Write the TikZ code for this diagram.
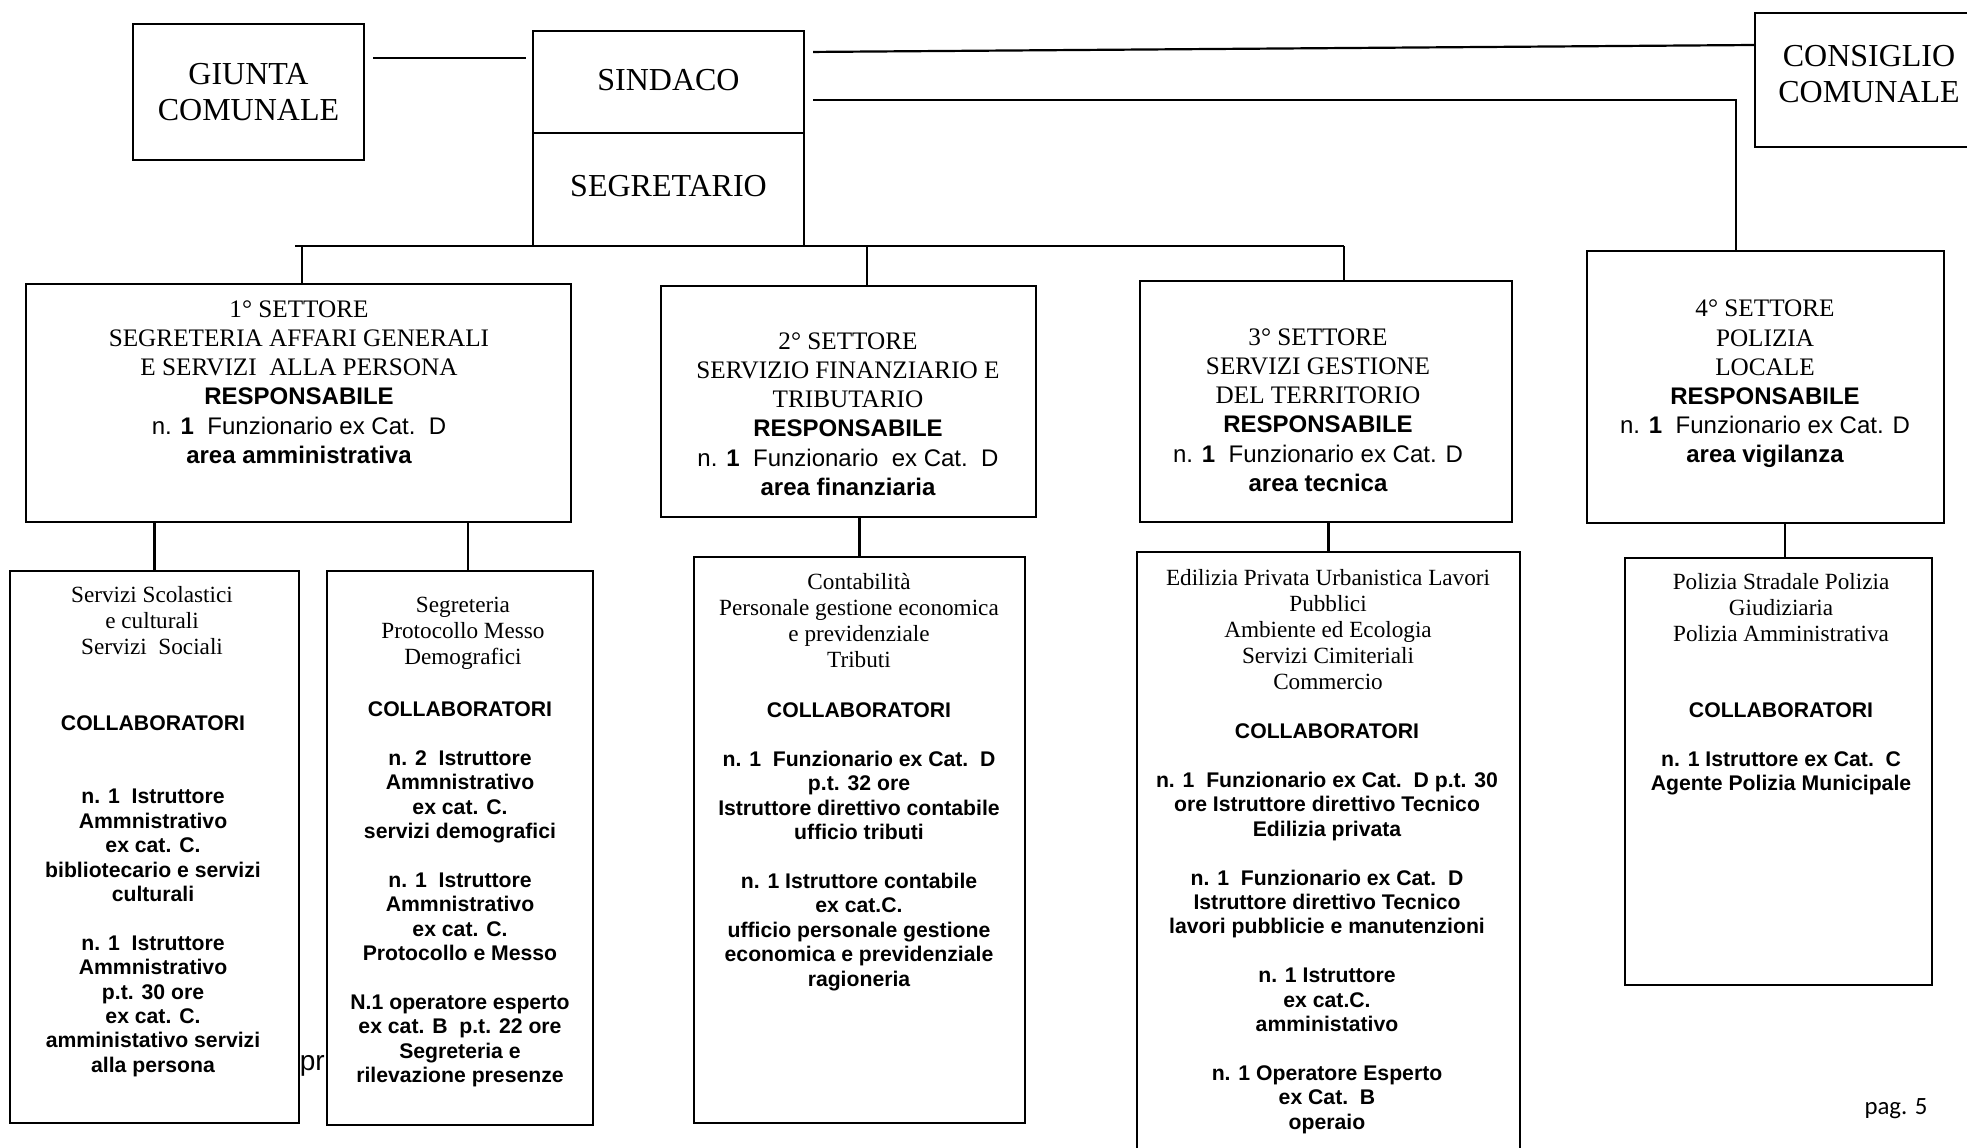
\documentclass[tikz,border=0pt]{standalone}
\usepackage{fontspec}
\setmainfont{Liberation Serif}
\setsansfont{Liberation Sans}
\newfontfamily\pagfont{Carlito}
\newcommand\sansline{\sffamily\fontsize{6}{7.3}\selectfont}

\begin{document}
\begin{tikzpicture}[x=0.25pt,y=-0.25pt,
  box/.style={draw,line width=0.55pt,inner sep=0pt},
  link/.style={line width=0.55pt},
  head/.style={align=center,font=\fontsize{8}{9}\selectfont},
  sect/.style={align=center,inner sep=0pt,font=\fontsize{6.3}{7.3}\selectfont},
  svc/.style={align=center,inner sep=0pt,anchor=north,font=\fontsize{5.8}{6.5}\selectfont},
  staff/.style={align=center,inner sep=0pt,anchor=north,font=\sffamily\bfseries\fontsize{5.3}{6.1}\selectfont}]
\useasboundingbox (0,0) rectangle (1967,1147);
\clip (0,0) rectangle (1967,1147);
% organi di vertice
\node[box,head,minimum width=57.75pt,minimum height=34pt] (giunta) at (248.5,92) {GIUNTA\\COMUNALE};
\node[box,head,text depth=1.2pt,minimum width=67.75pt,minimum height=25.5pt] (sindaco) at (668.5,82) {SINDACO};
\node[box,head,text depth=1.8pt,minimum width=67.75pt,minimum height=28.25pt] (segretario) at (668.5,189.5) {SEGRETARIO};
\node[box,minimum width=57pt,minimum height=33.5pt] (consiglio) at (1869,80) {};
\node[head,inner sep=0pt] (tcons) at (1869,74) {CONSIGLIO\\COMUNALE};
% settori
\node[box,minimum width=136.25pt,minimum height=59.5pt] (s1) at (298.5,403) {};
\node[box,minimum width=93.75pt,minimum height=57.75pt] (s2) at (848.5,401.5) {};
\node[box,minimum width=93pt,minimum height=60.25pt] (s3) at (1326,401.5) {};
\node[box,minimum width=89.25pt,minimum height=68pt] (s4) at (1765.5,387) {};
% uffici
\node[box,minimum width=72.25pt,minimum height=138pt] (u1a) at (154.5,847) {};
\node[box,minimum width=66.5pt,minimum height=138.5pt] (u1b) at (460,848) {};
\node[box,minimum width=82.75pt,minimum height=141.5pt] (u2) at (859.5,840) {};
\node[box,minimum width=95.75pt,minimum height=152pt] (u3) at (1328.5,856) {};
\node[box,minimum width=76.75pt,minimum height=106.75pt] (u4) at (1778.5,771.5) {};
% collegamenti
\draw[link,shorten <=2pt,shorten >=1.5pt] (giunta.east |- 0,58) -- (sindaco.west |- 0,58);
\draw[link,shorten <=2pt] (sindaco.east |- 0,52) -- (consiglio.west |- 0,45);
\draw[link,shorten <=2pt] (sindaco.east |- 0,100) -| (1736,0 |- s4.north);
\coordinate (bus) at (295,246);
\draw[link] (bus) -- (bus -| 1344,0);
\draw[link] (bus -| 302,0) -- (302,0 |- s1.north);
\draw[link] (bus -| 867,0) -- (867,0 |- s2.north);
\draw[link] (bus -| 1344,0) -- (1344,0 |- s3.north);
\draw[link] (s1.south -| u1a.north) -- (u1a.north);
\draw[link] (s1.south -| 468,0) -- (u1b.north -| 468,0);
\draw[link] (s2.south -| u2.north) -- (u2.north);
\draw[link] (s3.south -| u3.north) -- (u3.north);
\draw[link] (s4.south -| 1785,0) -- (u4.north -| 1785,0);
% testi dei settori
\node[sect] (t1) at (299,382) {1° SETTORE\\SEGRETERIA AFFARI GENERALI\\E SERVIZI\ \ ALLA PERSONA\\{\sansline\bfseries RESPONSABILE}\\{\sansline n. \textbf{1}\ \ Funzionario ex Cat.\ \ D}\\{\sansline\bfseries area amministrativa}};
\node[sect] (t2) at (848,414) {2° SETTORE\\SERVIZIO FINANZIARIO E\\TRIBUTARIO\\{\sansline\bfseries RESPONSABILE}\\{\sansline n. \textbf{1}\ \ Funzionario\ \ ex Cat.\ \ D}\\{\sansline\bfseries area finanziaria}};
\node[sect] (t3) at (1318,410) {3° SETTORE\\SERVIZI GESTIONE\\DEL TERRITORIO\\{\sansline\bfseries RESPONSABILE}\\{\sansline n. \textbf{1}\ \ Funzionario ex Cat. D}\\{\sansline\bfseries area tecnica}};
\node[sect] (t4) at (1765,384) {4° SETTORE\\POLIZIA\\LOCALE\\{\sansline\bfseries RESPONSABILE}\\{\sansline n. \textbf{1}\ \ Funzionario ex Cat. D}\\{\sansline\bfseries area vigilanza}};
% testi degli uffici
\node[svc] (v1a) at (152,586) {Servizi Scolastici\\e culturali\\Servizi\ \ Sociali};
\node[staff] (w1a) at (153,715) {COLLABORATORI\\[12.2pt]n. 1\ \ Istruttore\\Ammnistrativo\\ex cat. C.\\bibliotecario e servizi\\culturali\\[6.1pt]n. 1\ \ Istruttore\\Ammnistrativo\\p.t. 30 ore\\ex cat. C.\\amministativo servizi\\alla persona};
\node[svc] (v1b) at (463,596) {Segreteria\\Protocollo Messo\\Demografici};
\node[staff] (w1b) at (460,701) {COLLABORATORI\\[6.1pt]n. 2\ \ Istruttore\\Ammnistrativo\\ex cat. C.\\servizi demografici\\[6.1pt]n. 1\ \ Istruttore\\Ammnistrativo\\ex cat. C.\\Protocollo e Messo\\[6.1pt]N.1 operatore esperto\\ex cat. B\ \ p.t. 22 ore\\Segreteria e\\rilevazione presenze};
\node[svc] (v2) at (859,573) {Contabilità\\Personale gestione economica\\e previdenziale\\Tributi};
\node[staff] (w2) at (859,702) {COLLABORATORI\\[6.1pt]n. 1\ \ Funzionario ex Cat.\ \ D\\p.t. 32 ore\\Istruttore direttivo contabile\\ufficio tributi\\[6.1pt]n. 1 Istruttore contabile\\ex cat.C.\\ufficio personale gestione\\economica e previdenziale\\ragioneria};
\node[svc] (v3) at (1328,569) {Edilizia Privata Urbanistica Lavori\\Pubblici\\Ambiente ed Ecologia\\Servizi Cimiteriali\\Commercio};
\node[staff] (w3) at (1327,723) {COLLABORATORI\\[6.1pt]n. 1\ \ Funzionario ex Cat.\ \ D p.t. 30\\ore Istruttore direttivo Tecnico\\Edilizia privata\\[6.1pt]n. 1\ \ Funzionario ex Cat.\ \ D\\Istruttore direttivo Tecnico\\lavori pubblicie e manutenzioni\\[6.1pt]n. 1 Istruttore\\ex cat.C.\\amministativo\\[6.1pt]n. 1 Operatore Esperto\\ex Cat.\ \ B\\operaio};
\node[svc] (v4) at (1781,573) {Polizia Stradale Polizia\\Giudiziaria\\Polizia Amministrativa};
\node[staff] (w4) at (1781,702) {COLLABORATORI\\[6.1pt]n. 1 Istruttore ex Cat.\ \ C\\Agente Polizia Municipale};
% margini
\node[anchor=west,inner sep=0pt,font=\sffamily\fontsize{7}{8}\selectfont] (pr) at (299,1066) {pr};
\node[inner sep=0pt,font=\pagfont\fontsize{6.2}{7}\selectfont] (pag) at (1896,1109) {pag. 5};
\end{tikzpicture}
\end{document}
